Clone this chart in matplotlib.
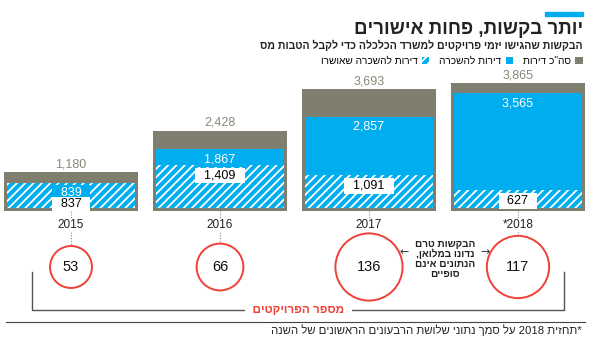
import re
import numpy as np
import matplotlib.pyplot as plt
from matplotlib.lines import Line2D
from matplotlib.patches import Patch, Rectangle

plt.rcParams['font.family'] = ['Liberation Sans Narrow', 'Liberation Sans', 'DejaVu Sans']
plt.rcParams['hatch.linewidth'] = 1.3
plt.rcParams['hatch.color'] = 'white'

years = ['2015', '2016', '2017', '2018*']
total_units = [1180, 2428, 3693, 3865]
rental_units = [839, 1867, 2857, 3565]
approved_rental = [837, 1409, 1091, 627]
projects = [53, 66, 136, 117]

title = 'יותר בקשות, פחות אישורים'
subtitle = 'הבקשות שהגישו יזמי פרויקטים למשרד הכלכלה כדי לקבל הטבות מס'
legend_labels = ['סה"כ דירות', 'דירות להשכרה', 'דירות להשכרה שאושרו']
note = ['הבקשות טרם', 'נדונו במלואן,', 'הנתונים אינם', 'סופיים']
bracket_label = 'מספר הפרויקטים'
footnote = '*תחזית 2018 על סמך נתוני שלושת הרבעונים הראשונים של השנה'

GRAY = '#807e6e'
BLUE = '#00adee'
RED = '#ef4136'
TOTAL_TXT = '#8a8779'


def rtl(s):
    # matplotlib has no bidi support: flip the Hebrew, keep numbers readable
    rev = s[::-1]
    return re.sub(r'[0-9][0-9,.]*[0-9]|[0-9]', lambda m: m.group(0)[::-1], rev)


W, H = 590, 338
fig = plt.figure(figsize=(W / 100, H / 100), dpi=100)


def px_box(x0, y0, x1, y1):
    return [x0 / W, 1 - y1 / H, (x1 - x0) / W, (y1 - y0) / H]


base, top = 211, 80
px_per_unit = 0.033
xlim = (-71 / 149, (W - 71) / 149)

# bars
ax = fig.add_axes(px_box(0, top, W, base))
ax.set_xlim(*xlim)
ax.set_ylim(0, (base - top) / px_per_unit)
ax.axis('off')

x = np.arange(len(years))
pad = 3 / px_per_unit
ax.bar(x, total_units, width=0.9, color=GRAY, linewidth=0)
ax.bar(x, np.array(rental_units) - pad, bottom=pad, width=0.86, color=BLUE, linewidth=0)
ax.bar(x, np.array(approved_rental) - pad, bottom=pad, width=0.86, color=BLUE,
       hatch='////', edgecolor='white', linewidth=0)

for i in range(len(years)):
    ax.annotate(f'{total_units[i]:,}', (x[i], total_units[i]), xytext=(0, 2),
                textcoords='offset pixels', ha='center', va='bottom',
                fontsize=9, color=TOTAL_TXT)
    ax.annotate(f'  {rental_units[i]:,}  ', (x[i], rental_units[i]), xytext=(0, -10),
                textcoords='offset pixels', ha='center', va='center',
                fontsize=9, color='white',
                bbox=dict(boxstyle='square,pad=0.15', fc=BLUE, ec='none'))
    gap = (rental_units[i] - approved_rental[i]) * px_per_unit
    off = -11 if gap > 14 else -gap - 21
    ax.annotate(f'  {approved_rental[i]:,}  ', (x[i], approved_rental[i]), xytext=(0, off),
                textcoords='offset pixels', ha='center', va='center',
                fontsize=9, color='black',
                bbox=dict(boxstyle='square,pad=0.15', fc='white', ec='none'))

# project circles
ax2 = fig.add_axes(px_box(0, base, W, H))
ax2.set_xlim(*xlim)
ax2.set_ylim(H - base, 0)
ax2.axis('off')

cy = 56
sizes = np.array(projects) * 17.2
radius_px = np.sqrt(sizes) / 2 * 100 / 72
ax2.scatter(x, [cy] * len(x), s=sizes, facecolor='white', edgecolor=RED,
            linewidth=1.4, zorder=3)
for i in range(len(years)):
    ax2.text(x[i], 14, rtl(years[i]), ha='center', va='center', fontsize=8.5, color='#222')
    ax2.plot([x[i], x[i]], [0, 7], color='#888', lw=0.8, ls=(0, (1, 1.5)))
    ax2.plot([x[i], x[i]], [21, cy - radius_px[i]], color='#888', lw=0.8, ls=(0, (1, 1.5)))
    ax2.text(x[i], cy, str(projects[i]), ha='center', va='center', fontsize=10.5,
             color='#111', zorder=4)

xl, xr = -0.26, 3.31
ax2.plot([xl, xl, xr, xr], [61, 99, 99, 61], color='#555', lw=1)
ax2.text((xl + xr) / 2, 99, '  ' + rtl(bracket_label) + '  ', ha='center', va='center',
         fontsize=8.5, fontweight='bold', color=RED,
         bbox=dict(boxstyle='square,pad=0.1', fc='white', ec='none'))

ax2.text(2.51, 48, '\n'.join(rtl(s) for s in note), ha='center', va='center',
         fontsize=7.2, fontweight='bold', linespacing=0.95, color='#222')
ax2.text(2.235, 41, '←', ha='center', va='center', fontsize=8, color='#333',
         family='DejaVu Sans')
ax2.text(2.78, 41, '→', ha='center', va='center', fontsize=8, color='#333',
         family='DejaVu Sans')

# header
fig.add_artist(Rectangle((545 / W, 1 - 16 / H), 38 / W, 4 / H, color=BLUE,
                         transform=fig.transFigure))
fig.text(583 / W, 1 - 30 / H, rtl(title), ha='right', va='center', fontsize=13.5,
         fontweight='bold', color='#222')
fig.text(583 / W, 1 - 45 / H, rtl(subtitle), ha='right', va='center', fontsize=7.6,
         fontweight='bold', color='#222')

handles = [Patch(facecolor=BLUE, hatch='////', edgecolor='white', linewidth=0),
           Patch(facecolor=BLUE, linewidth=0),
           Patch(facecolor=GRAY, linewidth=0)]
fig.legend(handles, [rtl(s) for s in legend_labels[::-1]], ncol=3, markerfirst=False,
           loc='center right', bbox_to_anchor=(583 / W, 1 - 61 / H), frameon=False,
           fontsize=7.3, handlelength=0.75, handleheight=0.75, handletextpad=0.4,
           columnspacing=1.0, borderaxespad=0, borderpad=0)

# footer
fig.add_artist(Line2D([6 / W, 585 / W], [1 - 322 / H] * 2, color='#444', lw=0.8))
fig.text(582 / W, 1 - 330 / H, rtl(footnote), ha='right', va='center', fontsize=8.2,
         color='#222')

fig.savefig('out.png', dpi=100)
